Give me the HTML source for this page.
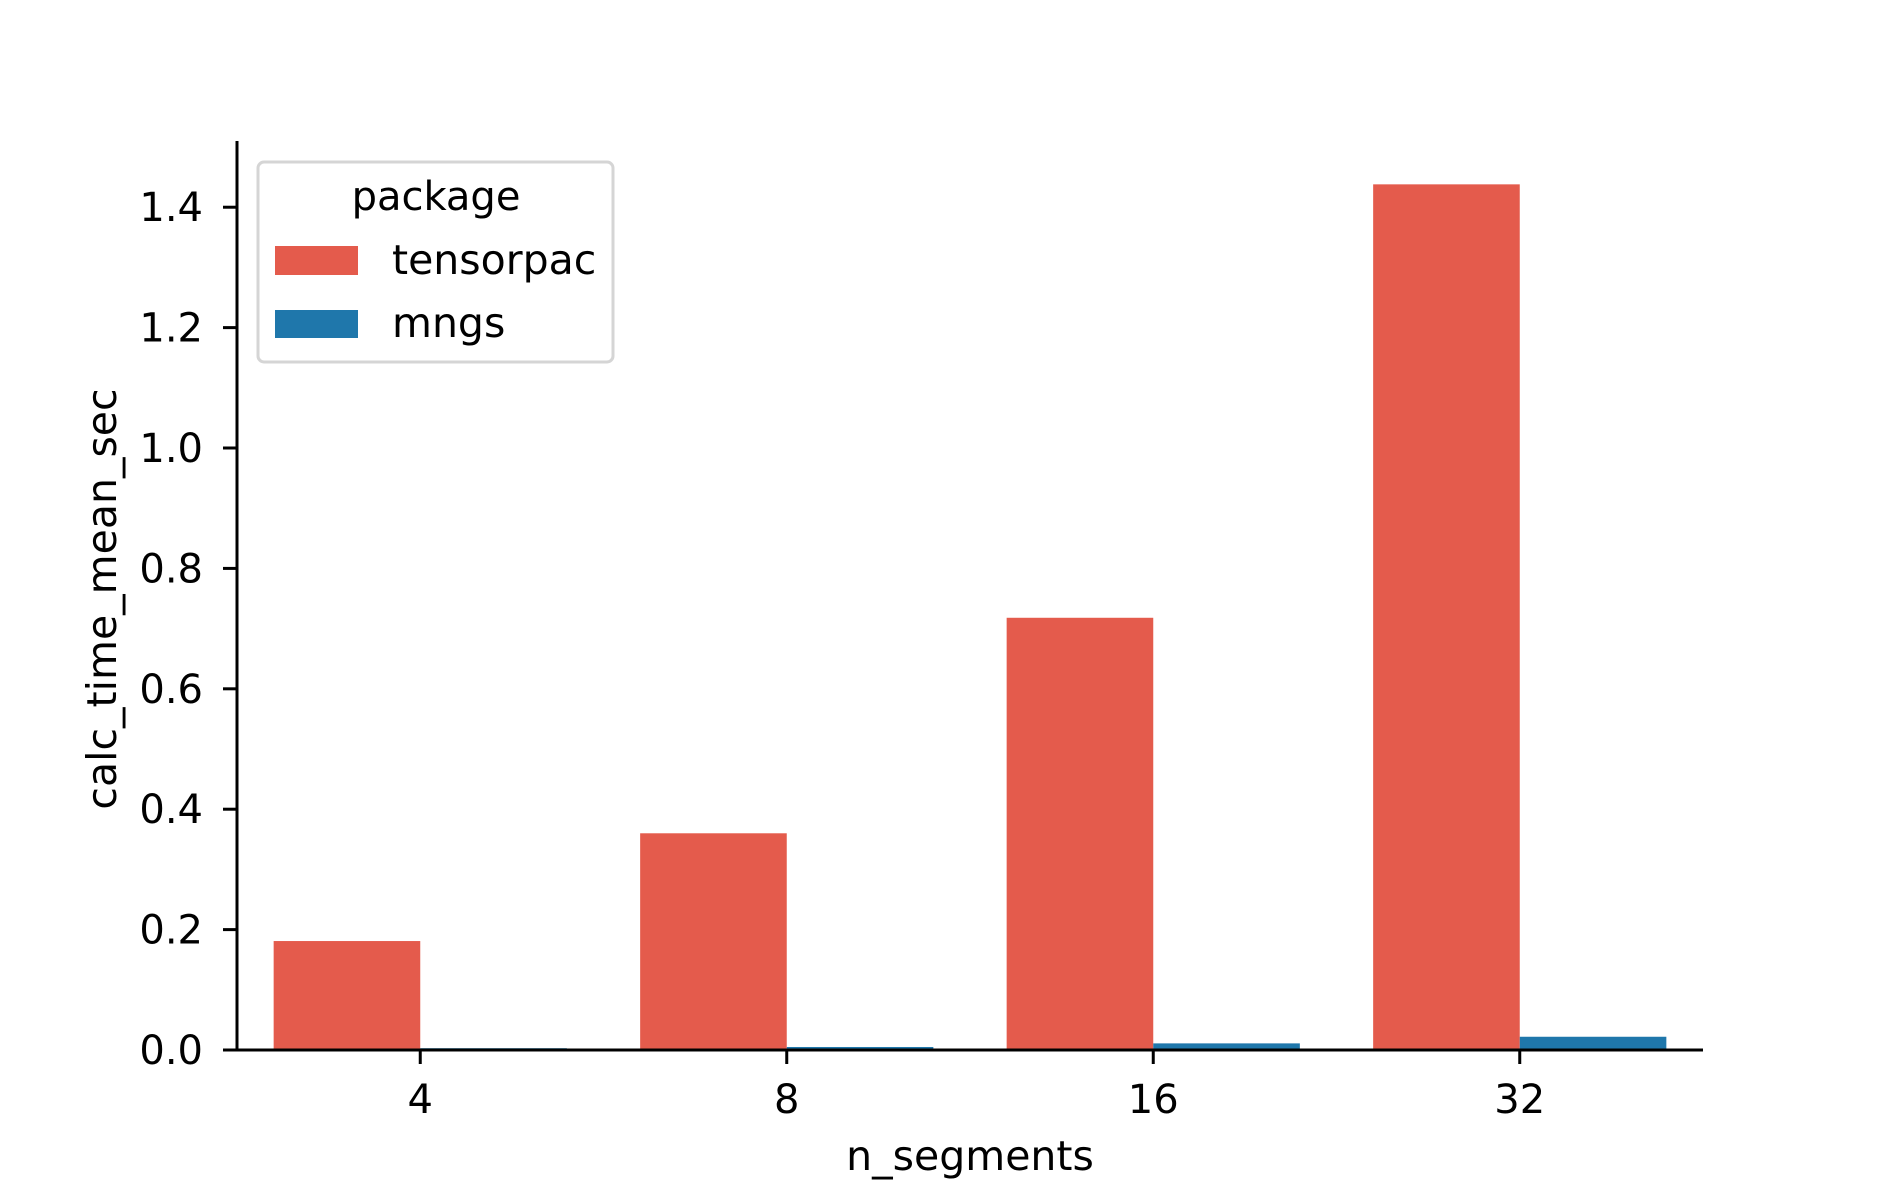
<!DOCTYPE html>
<html><head><meta charset="utf-8"><style>
html,body{margin:0;padding:0;background:#fff;}
svg{display:block;font-family:"DejaVu Sans","Liberation Sans",sans-serif;}
</style></head><body>
<svg id="chart" width="1889" height="1181" viewBox="0 0 1889 1181">
<g id="bars"></g>
<g id="axes"></g>
<g id="legend">
  <rect x="258" y="162" width="355" height="200" rx="6" fill="#fff" stroke="#d5d5d5" stroke-width="3"/>
  <text x="436" y="210" font-size="40" text-anchor="middle">package</text>
  <rect x="275" y="246" width="83" height="29" fill="#e45b4c"/>
  <text x="392" y="274" font-size="41">tensorpac</text>
  <rect x="275" y="310" width="83" height="28" fill="#1f77ab"/>
  <text x="392" y="337" font-size="41">mngs</text>
</g>
</svg>
<script>
const categories = ["4","8","16","32"];
const tensorpac = [0.181, 0.36, 0.718, 1.438];
const mngs = [0.003, 0.005, 0.011, 0.022];
const yTicks = [0.0, 0.2, 0.4, 0.6, 0.8, 1.0, 1.2, 1.4];
const yTickLabels = ["0.0","0.2","0.4","0.6","0.8","1.0","1.2","1.4"];

const NS = "http://www.w3.org/2000/svg";
const left = 237, right = 1703, baseY = 1050, topY = 141;
const yMax = 1.51;
function yScale(v){ return baseY - v * (baseY - topY) / yMax; }
const step = (right - left) / categories.length;
function xScale(i){ return left + step * (i + 0.5); }
const barW = step * 0.4;

function mk(tag, attrs, parent){
  const e = document.createElementNS(NS, tag);
  for (const k in attrs) e.setAttribute(k, attrs[k]);
  parent.appendChild(e);
  return e;
}
const bars = document.getElementById('bars');
const axes = document.getElementById('axes');

categories.forEach((c, i) => {
  const cx = xScale(i);
  const r = mk('rect', {x: cx - barW, y: yScale(tensorpac[i]), width: barW, height: baseY - yScale(tensorpac[i]), fill: '#e45b4c'}, bars);
  
  
  const b = mk('rect', {x: cx, y: yScale(mngs[i]), width: barW, height: baseY - yScale(mngs[i]), fill: '#1f77ab'}, bars);
  
  
  const t = mk('line', {x1: cx, x2: cx, y1: baseY, y2: baseY + 14, stroke: '#000', 'stroke-width': 3}, axes);
  
  
  const l = mk('text', {x: cx, y: 1113, 'font-size': 40, 'text-anchor': 'middle'}, axes);
  l.textContent = c;
  
  
});

yTicks.forEach((v, i) => {
  const y = yScale(v);
  const t = mk('line', {x1: left - 14, x2: left, y1: y, y2: y, stroke: '#000', 'stroke-width': 3}, axes);
  
  
  const l = mk('text', {x: 203, y: y + 14, 'font-size': 40, 'text-anchor': 'end'}, axes);
  l.textContent = yTickLabels[i];
  
  
});

const ya = mk('line', {x1: left, x2: left, y1: topY, y2: baseY + 1.5, stroke: '#000', 'stroke-width': 3}, axes);


const xa = mk('line', {x1: left - 1.5, x2: right, y1: baseY, y2: baseY, stroke: '#000', 'stroke-width': 3}, axes);



const xt = mk('text', {x: (left + right) / 2, y: 1170, 'font-size': 41, 'text-anchor': 'middle'}, axes);
xt.textContent = 'n_segments';


const yt = mk('text', {x: 0, y: 0, 'font-size': 41, 'text-anchor': 'middle', transform: 'translate(116,599) rotate(-90)'}, axes);
yt.textContent = 'calc_time_mean_sec';


</script>
</body></html>
